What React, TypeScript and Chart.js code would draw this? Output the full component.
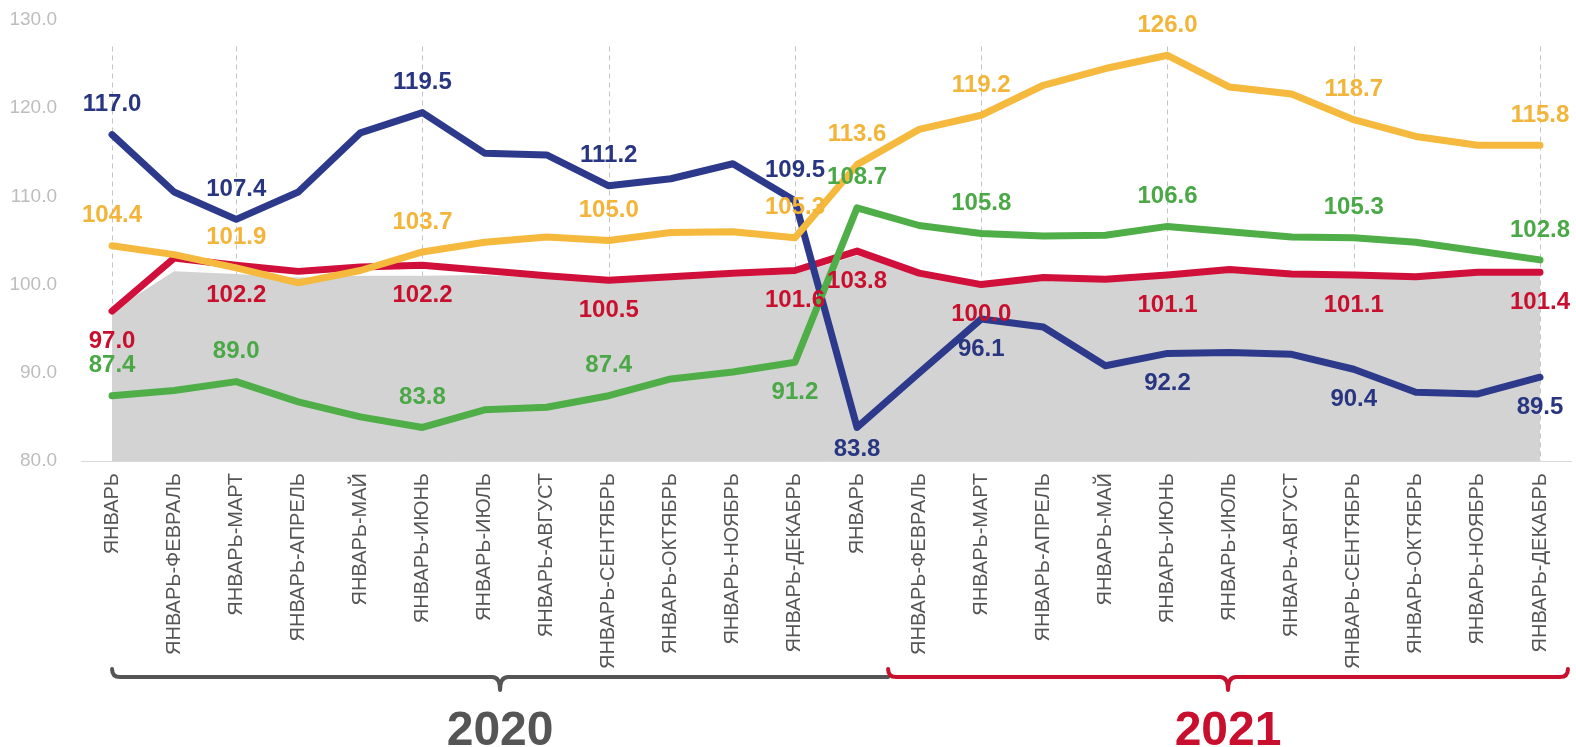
import React, { useEffect, useRef } from 'react';
import { Chart, registerables } from 'chart.js';

Chart.register(...registerables);

const FONT = "'Liberation Sans', Arial, sans-serif";

const categories = [
  'ЯНВАРЬ', 'ЯНВАРЬ-ФЕВРАЛЬ', 'ЯНВАРЬ-МАРТ', 'ЯНВАРЬ-АПРЕЛЬ', 'ЯНВАРЬ-МАЙ', 'ЯНВАРЬ-ИЮНЬ',
  'ЯНВАРЬ-ИЮЛЬ', 'ЯНВАРЬ-АВГУСТ', 'ЯНВАРЬ-СЕНТЯБРЬ', 'ЯНВАРЬ-ОКТЯБРЬ', 'ЯНВАРЬ-НОЯБРЬ', 'ЯНВАРЬ-ДЕКАБРЬ',
  'ЯНВАРЬ', 'ЯНВАРЬ-ФЕВРАЛЬ', 'ЯНВАРЬ-МАРТ', 'ЯНВАРЬ-АПРЕЛЬ', 'ЯНВАРЬ-МАЙ', 'ЯНВАРЬ-ИЮНЬ',
  'ЯНВАРЬ-ИЮЛЬ', 'ЯНВАРЬ-АВГУСТ', 'ЯНВАРЬ-СЕНТЯБРЬ', 'ЯНВАРЬ-ОКТЯБРЬ', 'ЯНВАРЬ-НОЯБРЬ', 'ЯНВАРЬ-ДЕКАБРЬ',
];

const blueValues = [117.0, 110.5, 107.4, 110.5, 117.2, 119.5, 114.9, 114.7, 111.2, 112.0, 113.7, 109.5,
  83.8, 90.0, 96.1, 95.2, 90.8, 92.2, 92.3, 92.1, 90.4, 87.8, 87.6, 89.5];
const yellowValues = [104.4, 103.4, 101.9, 100.2, 101.6, 103.7, 104.8, 105.4, 105.0, 105.9, 106.0, 105.3,
  113.6, 117.6, 119.2, 122.6, 124.5, 126.0, 122.4, 121.6, 118.7, 116.8, 115.8, 115.8];
const greenValues = [87.4, 88.0, 89.0, 86.7, 85.0, 83.8, 85.8, 86.1, 87.4, 89.3, 90.1, 91.2,
  108.7, 106.7, 105.8, 105.5, 105.6, 106.6, 106.0, 105.4, 105.3, 104.8, 103.8, 102.8];
const redValues = [97.0, 103.0, 102.2, 101.5, 102.0, 102.2, 101.6, 101.0, 100.5, 100.9, 101.3, 101.6,
  103.8, 101.3, 100.0, 100.8, 100.6, 101.1, 101.7, 101.2, 101.1, 100.9, 101.4, 101.4];
const grayValues = [97.0, 101.5, 101.2, 100.8, 101.0, 101.0, 101.1, 100.7, 100.3, 100.6, 100.9, 101.2,
  103.3, 101.6, 100.4, 100.8, 100.7, 101.0, 101.4, 101.0, 100.9, 100.7, 101.1, 101.1];

const labelIndices = [0, 2, 5, 8, 11, 12, 14, 17, 20, 23];
const blueLabelSide = ['up', 'up', 'up', 'up', 'up', 'down', 'down', 'down', 'down', 'down'];
const yellowLabelSide = ['up', 'up', 'up', 'up', 'up', 'up', 'up', 'up', 'up', 'up'];
const greenLabelSide = ['up', 'up', 'up', 'up', 'down', 'up', 'up', 'up', 'up', 'up'];
const redLabelSide = ['down', 'down', 'down', 'down', 'down', 'down', 'down', 'down', 'down', 'down'];

const gridIndices = [0, 2, 5, 8, 11, 14, 17, 20, 23];
const gridTopValue = 127;

const yearLabels = ['2020', '2021'];
const yearRanges = [[0, 12.5], [12.5, 23.45]];
const yearColors = ['#555555', '#C8102E'];

const yTicks = { min: 80, max: 130, step: 10 };

const dashGridPlugin = {
  id: 'dashGrid',
  beforeDatasetsDraw(chart: any) {
    const { ctx, scales } = chart;
    const x = scales.x, y = scales.y;
    ctx.save();
    ctx.strokeStyle = '#C4C4C4';
    ctx.lineWidth = 1;
    ctx.setLineDash([5, 4]);
    gridIndices.forEach((i) => {
      const px = Math.round(x.getPixelForValue(i)) + 0.5;
      ctx.beginPath();
      ctx.moveTo(px, y.getPixelForValue(gridTopValue));
      ctx.lineTo(px, y.getPixelForValue(yTicks.min));
      ctx.stroke();
    });
    ctx.restore();
  },
};

const valueLabelPlugin = {
  id: 'valueLabels',
  afterDatasetsDraw(chart: any) {
    const { ctx, chartArea } = chart;
    ctx.save();
    ctx.font = `bold 24px ${FONT}`;
    ctx.textAlign = 'center';
    ctx.textBaseline = 'middle';
    chart.data.datasets.forEach((ds: any, di: number) => {
      if (!ds.labelSides) return;
      const meta = chart.getDatasetMeta(di);
      labelIndices.forEach((idx, k) => {
        const pt = meta.data[idx];
        if (!pt) return;
        let ty = ds.labelSides[k] === 'up' ? pt.y - 30 : pt.y + 30;
        if (ty > chartArea.bottom - 12) ty = chartArea.bottom - 12;
        ctx.fillStyle = ds.labelColor;
        ctx.fillText(Number(ds.data[idx]).toFixed(1), pt.x, ty);
      });
    });
    ctx.restore();
  },
};

const bracePlugin = {
  id: 'braces',
  afterDraw(chart: any) {
    const { ctx, chartArea, scales } = chart;
    const x = scales.x;
    const by = chartArea.bottom + 216;
    ctx.save();
    ctx.lineWidth = 4;
    ctx.lineCap = 'round';
    ctx.lineJoin = 'round';
    yearLabels.forEach((label, i) => {
      const x0 = x.getPixelForValue(yearRanges[i][0]);
      const x1 = x.getPixelForValue(yearRanges[i][1]);
      const mid = (x0 + x1) / 2;
      const r = 8;
      const tip = 13;
      ctx.strokeStyle = yearColors[i];
      ctx.beginPath();
      ctx.moveTo(x0, by - r);
      ctx.quadraticCurveTo(x0, by, x0 + r, by);
      ctx.lineTo(mid - r, by);
      ctx.quadraticCurveTo(mid, by, mid, by + tip);
      ctx.quadraticCurveTo(mid, by, mid + r, by);
      if (i === yearLabels.length - 1) {
        ctx.lineTo(x1 - r, by);
        ctx.quadraticCurveTo(x1, by, x1, by - r);
      } else {
        ctx.lineTo(x1, by);
      }
      ctx.stroke();
      ctx.fillStyle = yearColors[i];
      ctx.font = `bold 48px ${FONT}`;
      ctx.textAlign = 'center';
      ctx.textBaseline = 'middle';
      ctx.fillText(label, mid, by + 55);
    });
    ctx.restore();
  },
};

function lineDataset(label: string, data: number[], color: string, labelColor: string, sides: string[]) {
  return {
    label,
    data,
    borderColor: color,
    backgroundColor: color,
    borderWidth: 7,
    pointRadius: 0,
    pointHoverRadius: 0,
    tension: 0,
    fill: false,
    borderCapStyle: 'round',
    borderJoinStyle: 'round',
    labelColor,
    labelSides: sides,
  };
}

export default function App() {
  const canvasRef = useRef<HTMLCanvasElement | null>(null);

  useEffect(() => {
    document.body.style.margin = '0';
    const canvas = canvasRef.current;
    if (!canvas) return;
    const chart = new Chart(canvas, {
      type: 'line',
      data: {
        labels: categories,
        datasets: [
          lineDataset('yellow', yellowValues, '#F5B93E', '#F2B53A', yellowLabelSide),
          lineDataset('green', greenValues, '#4FAE48', '#4AA846', greenLabelSide),
          lineDataset('blue', blueValues, '#2D3A8C', '#283580', blueLabelSide),
          lineDataset('red', redValues, '#D0103A', '#C8102E', redLabelSide),
          {
            label: 'gray',
            data: grayValues,
            borderWidth: 0,
            borderColor: 'rgba(0,0,0,0)',
            backgroundColor: '#D3D3D3',
            pointRadius: 0,
            tension: 0,
            fill: 'start',
          } as any,
        ],
      } as any,
      options: {
        responsive: false,
        animation: false,
        devicePixelRatio: 1,
        layout: { padding: { top: 20, right: 0, bottom: 0, left: 0 } },
        plugins: {
          legend: { display: false },
          tooltip: { enabled: false },
        },
        scales: {
          x: {
            type: 'category',
            offset: true,
            grid: { display: false, drawTicks: false },
            border: { display: true, color: '#D9D9D9', width: 1 },
            ticks: {
              autoSkip: false,
              minRotation: 90,
              maxRotation: 90,
              padding: 12,
              color: '#555555',
              font: { family: FONT, size: 20 },
            },
            afterFit(scale: any) {
              scale.height = 286;
            },
          },
          y: {
            min: yTicks.min,
            max: yTicks.max,
            grid: { display: false, drawTicks: true, tickLength: 20 },
            border: { display: false },
            ticks: {
              stepSize: yTicks.step,
              padding: 4,
              color: '#BDBDBD',
              font: { family: FONT, size: 19 },
              callback: (v: any) => Number(v).toFixed(1),
            },
            afterFit(scale: any) {
              scale.width = 81;
            },
          },
        },
      } as any,
      plugins: [dashGridPlugin, valueLabelPlugin, bracePlugin],
    });
    return () => chart.destroy();
  }, []);

  return (
    <div style={{ width: 1576, height: 747 }}>
      <canvas ref={canvasRef} width={1576} height={747} style={{ display: 'block', width: 1576, height: 747 }} />
    </div>
  );
}
